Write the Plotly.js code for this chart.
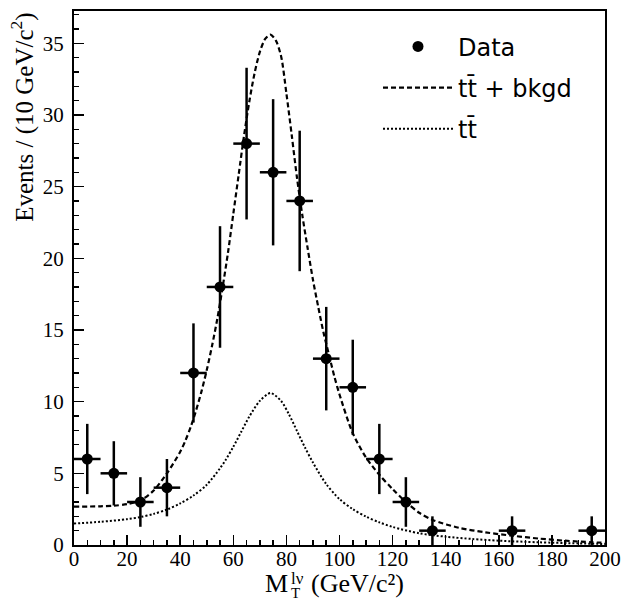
<!DOCTYPE html>
<html>
<head>
<meta charset="utf-8">
<script src="https://cdn.plot.ly/plotly-3.0.1.min.js"></script>
<style>html,body{margin:0;padding:0;background:#fff;}#chart{width:631px;height:602px;}</style>
</head>
<body>
<div id="chart"></div>
<script>
// Data points (bin centres, counts, statistical errors)
const binCenters = [5, 15, 25, 35, 45, 55, 65, 75, 85, 95, 105, 115, 125, 135, 165, 195];
const events     = [6, 5, 3, 4, 12, 18, 28, 26, 24, 13, 11, 6, 3, 1, 1, 1];
const eventErr   = [2.45, 2.24, 1.73, 2.0, 3.46, 4.24, 5.29, 5.10, 4.90, 3.61, 3.32, 2.45, 1.73, 1.0, 1.0, 1.0];

// tt + bkgd curve (dashed)
const sumX = [0, 10, 15, 20, 25, 30, 35, 40, 42, 44, 46, 48, 50, 52, 54, 56, 58, 60, 62, 64, 66, 68, 70, 72, 74, 76, 78, 80, 82, 84, 86, 88, 90, 92, 94, 96, 98, 100, 105, 110, 115, 120, 125, 130, 135, 145, 155, 165, 175, 185, 195, 200];
const sumY = [2.67, 2.7, 2.74, 2.85, 3.1, 3.8, 5.0, 6.5, 7.3, 8.25, 9.4, 10.7, 12.2, 13.9, 15.8, 18.0, 20.4, 23.1, 25.8, 28.5, 30.9, 32.9, 34.4, 35.3, 35.6, 35.2, 34.1, 31.5, 28.6, 25.6, 23.0, 20.7, 18.5, 16.6, 14.8, 13.3, 11.8, 10.5, 7.8, 6.1, 4.9, 3.9, 3.0, 2.25, 1.75, 1.2, 0.88, 0.65, 0.45, 0.30, 0.19, 0.15];

// tt curve (dotted)
const ttX = [0, 10, 20, 25, 30, 35, 40, 45, 50, 55, 57, 60, 63, 66, 70, 74, 78, 81, 84, 87, 90, 95, 100, 105, 110, 115, 120, 130, 140, 150, 160, 175, 190, 200];
const ttY = [1.5, 1.62, 1.8, 1.95, 2.17, 2.47, 2.9, 3.45, 4.2, 5.35, 5.9, 6.85, 7.9, 8.95, 10.05, 10.6, 10.05, 9.1, 7.95, 6.8, 5.75, 4.25, 3.2, 2.5, 1.98, 1.58, 1.26, 0.82, 0.58, 0.42, 0.30, 0.19, 0.11, 0.07];

const legendNames = ['Data', 't\u0074\u0304 + bkgd', 't\u0074\u0304'];
const xTicks = [0, 20, 40, 60, 80, 100, 120, 140, 160, 180, 200];
const yTicks = [0, 5, 10, 15, 20, 25, 30, 35];

const serif = 'Liberation Serif, Times New Roman, serif';

const traces = [
  {
    x: sumX, y: sumY, type: 'scatter', mode: 'lines', name: legendNames[1],
    legendgroup: 'b', legendrank: 2,
    line: {color: '#000', width: 2.2, dash: '5px,3px', shape: 'spline', smoothing: 0.8},
    hoverinfo: 'skip'
  },
  {
    x: ttX, y: ttY, type: 'scatter', mode: 'lines', name: legendNames[2],
    legendgroup: 'c', legendrank: 3,
    line: {color: '#000', width: 2, dash: '2px,2px', shape: 'spline', smoothing: 0.8},
    hoverinfo: 'skip'
  },
  {
    x: binCenters, y: events, type: 'scatter', mode: 'markers', name: legendNames[0],
    legendgroup: 'a', legendrank: 1,
    marker: {color: '#000', size: 11, symbol: 'circle'},
    error_y: {type: 'data', array: eventErr, visible: true, color: '#000', thickness: 2.5, width: 0},
    error_x: {type: 'constant', value: 5, visible: true, color: '#000', thickness: 2.5, width: 0}
  }
];

const layout = {
  width: 631, height: 602,
  margin: {l: 74, r: 26, t: 11, b: 57},
  paper_bgcolor: '#fff', plot_bgcolor: '#fff',
  showlegend: true,
  legend: {
    x: 0.5725, xanchor: 'left', y: 0.975, yanchor: 'top',
    bgcolor: 'rgba(0,0,0,0)', borderwidth: 0,
    font: {family: 'DejaVu Sans, sans-serif', size: 24, color: '#000'},
    itemwidth: 70, tracegroupgap: 7, traceorder: 'grouped'
  },
  xaxis: {
    range: [0, 200], tickvals: xTicks, ticks: 'inside', ticklen: 10, tickwidth: 1.5, tickcolor: '#000',
    minor: {dtick: 5, ticks: 'inside', ticklen: 5, tickwidth: 1.5, tickcolor: '#000', showgrid: false},
    showline: true, linecolor: '#000', linewidth: 2, mirror: true,
    showgrid: false, zeroline: false,
    tickfont: {family: serif, size: 21, color: '#000'},
    ticklabelstandoff: -6
  },
  yaxis: {
    range: [0, 37.25], tickvals: yTicks, ticks: 'inside', ticklen: 10, tickwidth: 1.5, tickcolor: '#000',
    minor: {dtick: 1, ticks: 'inside', ticklen: 5, tickwidth: 1.5, tickcolor: '#000', showgrid: false},
    showline: true, linecolor: '#000', linewidth: 2, mirror: true,
    showgrid: false, zeroline: false,
    tickfont: {family: serif, size: 21, color: '#000'},
    ticklabelstandoff: 4
  },
  annotations: [
    {
      text: 'Events / (10 GeV/c<sup>2</sup>)', textangle: -90,
      xref: 'paper', yref: 'paper', x: -0.096, y: 0.80, xanchor: 'center', yanchor: 'middle',
      showarrow: false, font: {family: serif, size: 25, color: '#000'}
    },
    {
      text: 'M',
      xref: 'paper', yref: 'paper', x: 0.4049, y: -0.073, xanchor: 'right', yanchor: 'middle',
      showarrow: false, font: {family: serif, size: 26, color: '#000'}, borderpad: 0
    },
    {
      text: 'l\u03bd',
      xref: 'paper', yref: 'paper', x: 0.4068, y: -0.0625, xanchor: 'left', yanchor: 'middle',
      showarrow: false, font: {family: serif, size: 17, color: '#000'}, borderpad: 0
    },
    {
      text: 'T',
      xref: 'paper', yref: 'paper', x: 0.4068, y: -0.0905, xanchor: 'left', yanchor: 'middle',
      showarrow: false, font: {family: serif, size: 15, color: '#000'}, borderpad: 0
    },
    {
      text: '(GeV/c\u00b2)',
      xref: 'paper', yref: 'paper', x: 0.4445, y: -0.073, xanchor: 'left', yanchor: 'middle',
      showarrow: false, font: {family: serif, size: 26, color: '#000'}, borderpad: 0
    }
  ]
};

Plotly.newPlot('chart', traces, layout, {displayModeBar: false, staticPlot: true});
</script>
</body>
</html>
